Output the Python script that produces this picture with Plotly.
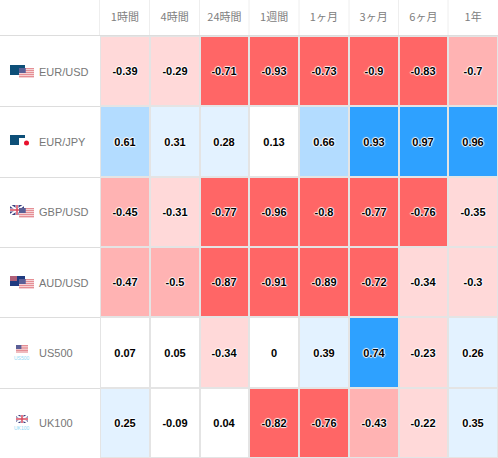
import plotly.graph_objects as go

W, H = 498, 458
periods = ["1時間", "4時間", "24時間", "1週間", "1ヶ月", "3ヶ月", "6ヶ月", "1年"]
symbols = ["EUR/USD", "EUR/JPY", "GBP/USD", "AUD/USD", "US500", "UK100"]
eur_usd = [-0.39, -0.29, -0.71, -0.93, -0.73, -0.9, -0.83, -0.7]
eur_jpy = [0.61, 0.31, 0.28, 0.13, 0.66, 0.93, 0.97, 0.96]
gbp_usd = [-0.45, -0.31, -0.77, -0.96, -0.8, -0.77, -0.76, -0.35]
aud_usd = [-0.47, -0.5, -0.87, -0.91, -0.89, -0.72, -0.34, -0.3]
us500 = [0.07, 0.05, -0.34, 0, 0.39, 0.74, -0.23, 0.26]
uk100 = [0.25, -0.09, 0.04, -0.82, -0.76, -0.43, -0.22, 0.35]
rows = [eur_usd, eur_jpy, gbp_usd, aud_usd, us500, uk100]

band_colors = ["#ff6666", "#ffb3b3", "#ffd9d9", "#ffffff", "#e3f2ff", "#b3dcff", "#2ea1ff"]


def band(v):
    if v <= -0.71:
        return 0
    if v <= -0.4:
        return 1
    if v <= -0.2:
        return 2
    if v < 0.2:
        return 3
    if v < 0.5:
        return 4
    if v < 0.7:
        return 5
    return 6


n = len(band_colors)
scale = []
for i, c in enumerate(band_colors):
    scale += [[i / n, c], [(i + 1) / n, c]]

fig = go.Figure(go.Heatmap(
    x=periods, y=symbols,
    z=[[band(v) for v in r] for r in rows],
    text=[[str(v) for v in r] for r in rows],
    texttemplate="%{text}",
    textfont=dict(family="Liberation Sans", size=11, color="#000000", weight=700,
                  shadow="1px 0 1px #ffffff, -1px 0 1px #ffffff, 0 1px 1px #ffffff, 0 -1px 1px #ffffff"),
    colorscale=scale, zmin=-0.5, zmax=n - 0.5, showscale=False,
    xgap=2, ygap=2, hoverinfo="skip",
))


def px(x): return x / W
def py(y): return 1 - y / H


shapes = []
annots = []


def rect(x0, y0, x1, y1, fill):
    shapes.append(dict(type="rect", xref="paper", yref="paper", layer="above",
                       x0=px(x0), x1=px(x1), y0=py(y1), y1=py(y0),
                       fillcolor=fill, line=dict(width=0)))


def dot(x0, y0, x1, y1, fill):
    shapes.append(dict(type="circle", xref="paper", yref="paper", layer="above",
                       x0=px(x0), x1=px(x1), y0=py(y1), y1=py(y0),
                       fillcolor=fill, line=dict(width=0)))


def line(x0, y0, x1, y1, col, w=1):
    shapes.append(dict(type="line", xref="paper", yref="paper", layer="above",
                       x0=px(x0), x1=px(x1), y0=py(y0), y1=py(y1),
                       line=dict(color=col, width=w)))


def flag_eu(x, y):
    rect(x, y, x + 15, y + 10, "#0d4f78")


def flag_us(x, y, w=15, h=10):
    rect(x, y, x + w, y + h, "#ffffff")
    for k in range(0, 5):
        rect(x, y + k * h / 5, x + w, y + k * h / 5 + h / 10 + 0.4, "#e58f95")
    rect(x, y, x + w * 0.45, y + h * 0.5, "#5a5f96")


def flag_jp(x, y):
    rect(x, y, x + 15, y + 10, "#ffffff")
    dot(x + 5, y + 2.5, x + 10, y + 7.5, "#e8112d")


def flag_uk(x, y, w=12, h=10):
    rect(x, y, x + w, y + h, "#3b3f80")
    line(x, y, x + w, y + h, "#ffffff", 2)
    line(x, y + h, x + w, y, "#ffffff", 2)
    line(x + w / 2, y, x + w / 2, y + h, "#ffffff", 3)
    line(x, y + h / 2, x + w, y + h / 2, "#ffffff", 3)
    line(x + w / 2, y, x + w / 2, y + h, "#d8485c", 1.5)
    line(x, y + h / 2, x + w, y + h / 2, "#d8485c", 1.5)


def flag_au(x, y):
    rect(x, y, x + 15, y + 10, "#1f3a80")
    rect(x, y, x + 7, y + 5, "#b06078")


flag_eu(10, 65)
flag_us(19, 68)
flag_eu(10, 135)
flag_jp(19, 138)
flag_uk(10, 205, 14, 10)
flag_us(19, 208)
flag_au(10, 276)
flag_us(19, 279)
flag_us(16, 345, 12, 8)
flag_uk(16, 415, 12, 8)

for label, yy in (("US500", 358), ("UK100", 428)):
    annots.append(dict(text=label, x=px(22), y=py(yy), xref="paper", yref="paper",
                       showarrow=False, xanchor="center", yanchor="middle",
                       font=dict(family="Liberation Sans", size=5, color="#8fd8f5")))

label_y = [72, 142, 212, 283, 353, 423]
for s, yy in zip(symbols, label_y):
    annots.append(dict(text=s, x=px(38), y=py(yy), xref="paper", yref="paper",
                       showarrow=False, xanchor="left", yanchor="middle", xshift=-1,
                       font=dict(family="Liberation Sans", size=11, color="#777777")))

# header and label-column rules
for xx in [99.5, 149.5, 199.5, 249, 299, 349, 398.5, 448]:
    line(xx, 0, xx, 35, "#eeeeee", 1)
for yy in [106.5, 177.5, 247.5, 317.5, 388.5]:
    line(0, yy, 100, yy, "#dddddd", 1)
line(0, 35.5, W, 35.5, "#dddddd", 1)

fig.update_layout(
    width=W, height=H, margin=dict(l=0, r=0, t=0, b=0),
    paper_bgcolor="#ffffff", plot_bgcolor="#e4e4e4",
    shapes=shapes, annotations=annots, showlegend=False,
    xaxis=dict(domain=[100 / W, 1], side="top", type="category", showgrid=False,
               zeroline=False, ticks="outside", ticklen=10, tickcolor="rgba(0,0,0,0)",
               tickangle=0,
               tickfont=dict(family="Noto Sans CJK JP", size=11, color="#808080")),
    yaxis=dict(domain=[0, 1 - 36 / H], type="category", autorange="reversed",
               showgrid=False, zeroline=False, showticklabels=False, ticks=""),
)
fig.write_html("out.html", config={"displayModeBar": False},
               post_script="document.body.style.margin='0';")
